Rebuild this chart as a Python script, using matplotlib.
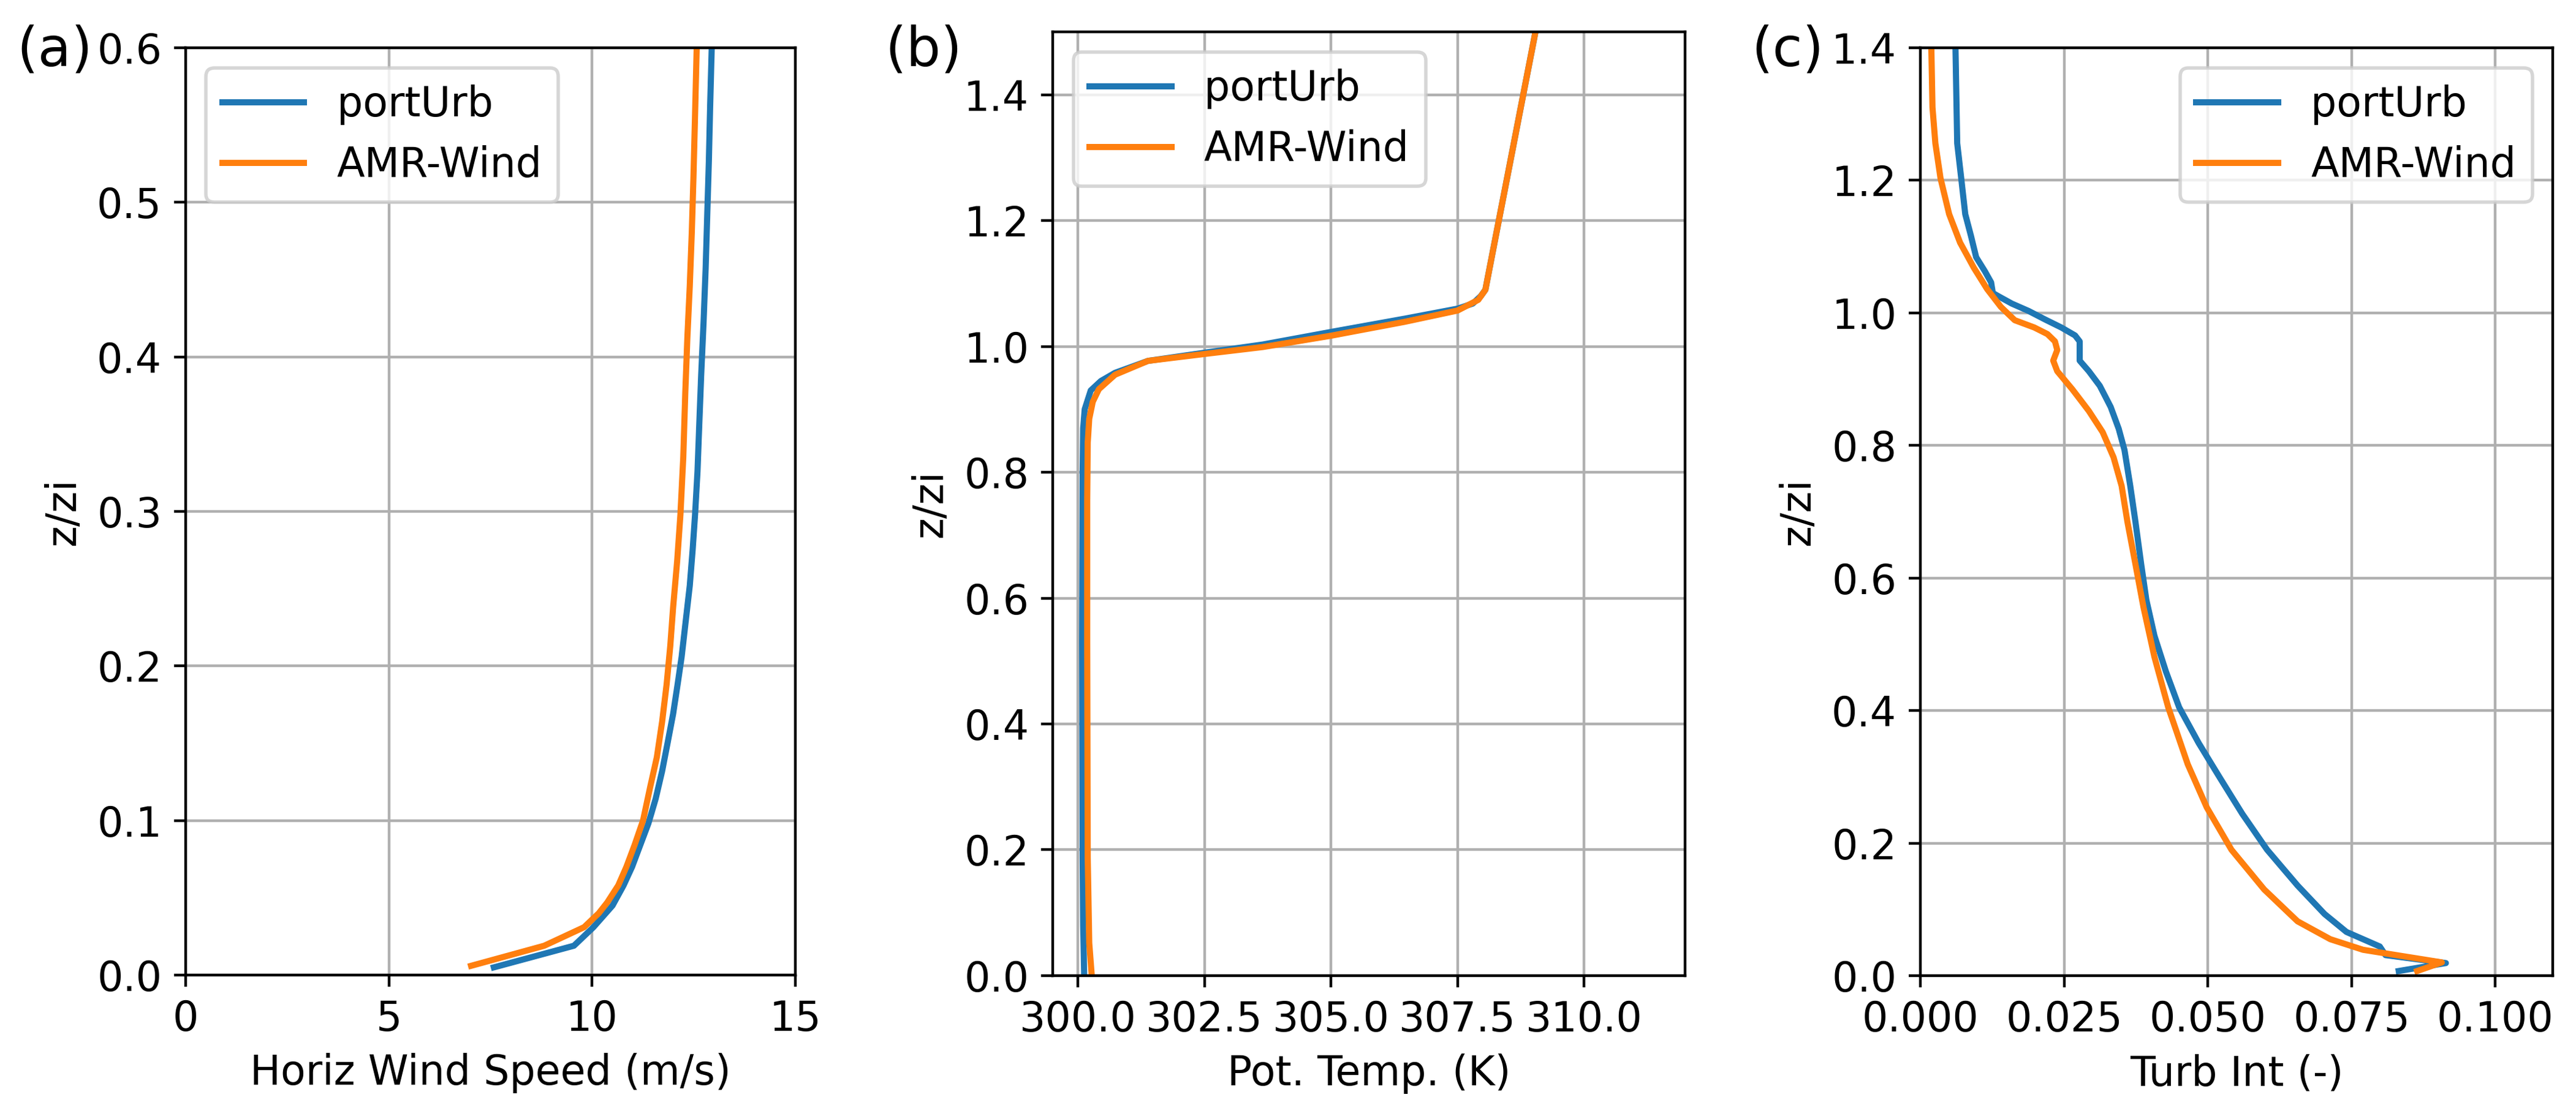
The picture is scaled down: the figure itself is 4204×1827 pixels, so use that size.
import numpy as np
import matplotlib
matplotlib.use('Agg')
import matplotlib.pyplot as plt

plt.rcParams['font.size'] = 12
plt.rcParams['lines.linewidth'] = 1.8

# (a) horizontal wind speed profiles
ws_pu = [7.58, 9.55, 10.03, 10.50, 10.77, 10.98, 11.18, 11.38, 11.56, 11.72, 11.86,
         11.99, 12.10, 12.20, 12.30, 12.40, 12.47, 12.53, 12.59, 12.63, 12.68, 12.74,
         12.79, 12.83, 12.87, 12.90, 12.94, 12.98]
z_ws_pu = [0.005, 0.019, 0.031, 0.045, 0.058, 0.070, 0.084, 0.098, 0.114, 0.132, 0.151,
           0.169, 0.188, 0.206, 0.229, 0.252, 0.275, 0.298, 0.326, 0.354, 0.388, 0.423,
           0.457, 0.492, 0.527, 0.561, 0.600, 0.650]
ws_amr = [7.02, 8.82, 9.80, 10.16, 10.37, 10.64, 10.84, 11.04, 11.25, 11.42, 11.59,
          11.72, 11.83, 11.92, 11.99, 12.09, 12.17, 12.24, 12.29, 12.34, 12.40, 12.45,
          12.49, 12.53, 12.57, 12.61]
z_ws_amr = [0.006, 0.019, 0.031, 0.040, 0.047, 0.058, 0.070, 0.084, 0.100, 0.121, 0.141,
            0.164, 0.188, 0.213, 0.238, 0.268, 0.298, 0.335, 0.377, 0.412, 0.446, 0.481,
            0.516, 0.557, 0.600, 0.650]

# (b) potential temperature profiles
th_pu = [300.12, 300.10, 300.09, 300.08, 300.09, 300.10, 300.13, 300.25, 300.45, 300.73,
         301.38, 302.50, 303.65, 305.00, 306.45, 307.50, 307.80, 307.96, 308.05, 309.04,
         309.30]
z_th_pu = [0.0, 0.08, 0.188, 0.53, 0.80, 0.87, 0.90, 0.93, 0.945, 0.958,
           0.977, 0.990, 1.003, 1.023, 1.044, 1.060, 1.068, 1.080, 1.090, 1.500,
           1.610]
th_amr = [300.27, 300.22, 300.19, 300.18, 300.18, 300.19, 300.22, 300.29, 300.41, 300.73,
          301.38, 302.50, 303.65, 305.00, 306.45, 307.50, 307.91, 308.05, 309.04, 309.30]
z_th_amr = [0.0, 0.052, 0.188, 0.53, 0.756, 0.847, 0.885, 0.912, 0.932, 0.955,
            0.977, 0.988, 0.999, 1.017, 1.039, 1.057, 1.074, 1.090, 1.500, 1.610]

# (c) turbulence intensity profiles
ti_pu = [0.0832, 0.0914, 0.0809, 0.0799, 0.0741, 0.0703, 0.0656, 0.0603, 0.0560, 0.0522,
         0.0484, 0.0450, 0.0427, 0.0407, 0.0393, 0.0384, 0.0374, 0.0365, 0.0355, 0.0345,
         0.0331, 0.0312, 0.0293, 0.0277, 0.0277, 0.0269, 0.0245, 0.0217, 0.0188, 0.0159,
         0.0136, 0.0126, 0.0123, 0.0112, 0.0097, 0.0088, 0.0078, 0.0071, 0.0064, 0.0061,
         0.0060]
z_ti_pu = [0.007, 0.019, 0.031, 0.044, 0.066, 0.093, 0.136, 0.190, 0.244, 0.297,
           0.351, 0.405, 0.459, 0.513, 0.567, 0.621, 0.685, 0.739, 0.793, 0.825,
           0.858, 0.890, 0.912, 0.928, 0.957, 0.966, 0.978, 0.990, 1.003, 1.014,
           1.025, 1.030, 1.046, 1.063, 1.084, 1.116, 1.149, 1.203, 1.256, 1.400,
           1.450]
ti_amr = [0.0864, 0.0907, 0.0770, 0.0713, 0.0656, 0.0598, 0.0541, 0.0498, 0.0465, 0.0431,
          0.0407, 0.0388, 0.0374, 0.0360, 0.0350, 0.0336, 0.0317, 0.0293, 0.0264, 0.0238,
          0.0231, 0.0238, 0.0234, 0.0221, 0.0198, 0.0164, 0.0140, 0.0116, 0.0093, 0.0069,
          0.0050, 0.0035, 0.0026, 0.0021, 0.0019, 0.0018]
z_ti_amr = [0.007, 0.020, 0.039, 0.055, 0.082, 0.130, 0.190, 0.254, 0.319, 0.405,
            0.481, 0.556, 0.621, 0.685, 0.739, 0.782, 0.820, 0.852, 0.885, 0.912,
            0.928, 0.944, 0.957, 0.968, 0.978, 0.989, 1.009, 1.036, 1.068, 1.106,
            1.149, 1.203, 1.256, 1.310, 1.400, 1.450]

fig = plt.figure(figsize=(10.51, 4.5675))

ax1 = fig.add_axes([0.0721, 0.1286, 0.2367, 0.8287])
ax1.plot(ws_pu, z_ws_pu, label='portUrb')
ax1.plot(ws_amr, z_ws_amr, label='AMR-Wind')
ax1.set_xlim(0, 15)
ax1.set_ylim(0, 0.6)
ax1.set_xlabel('Horiz Wind Speed (m/s)')
ax1.set_ylabel('z/zi')
ax1.grid(True)
ax1.legend(loc='upper left')

ax2 = fig.add_axes([0.4087, 0.1281, 0.2455, 0.8435])
ax2.plot(th_pu, z_th_pu, label='portUrb')
ax2.plot(th_amr, z_th_amr, label='AMR-Wind')
ax2.set_xlim(299.5, 312.0)
ax2.set_ylim(0, 1.5)
ax2.set_xticks([300.0, 302.5, 305.0, 307.5, 310.0])
ax2.set_xlabel('Pot. Temp. (K)')
ax2.set_ylabel('z/zi')
ax2.grid(True)
ax2.legend(loc='upper left')

ax3 = fig.add_axes([0.7455, 0.1281, 0.2455, 0.8292])
ax3.plot(ti_pu, z_ti_pu, label='portUrb')
ax3.plot(ti_amr, z_ti_amr, label='AMR-Wind')
ax3.set_xlim(0, 0.11)
ax3.set_ylim(0, 1.4)
ax3.set_xticks([0.0, 0.025, 0.05, 0.075, 0.1])
ax3.set_xlabel('Turb Int (-)')
ax3.set_ylabel('z/zi')
ax3.grid(True)
ax3.legend(loc='upper right')

fig.text(0.0064, 0.9414, '(a)', fontsize=16, va='baseline')
fig.text(0.3435, 0.9414, '(b)', fontsize=16, va='baseline')
fig.text(0.6800, 0.9414, '(c)', fontsize=16, va='baseline')

fig.savefig('out.png', dpi=400)
